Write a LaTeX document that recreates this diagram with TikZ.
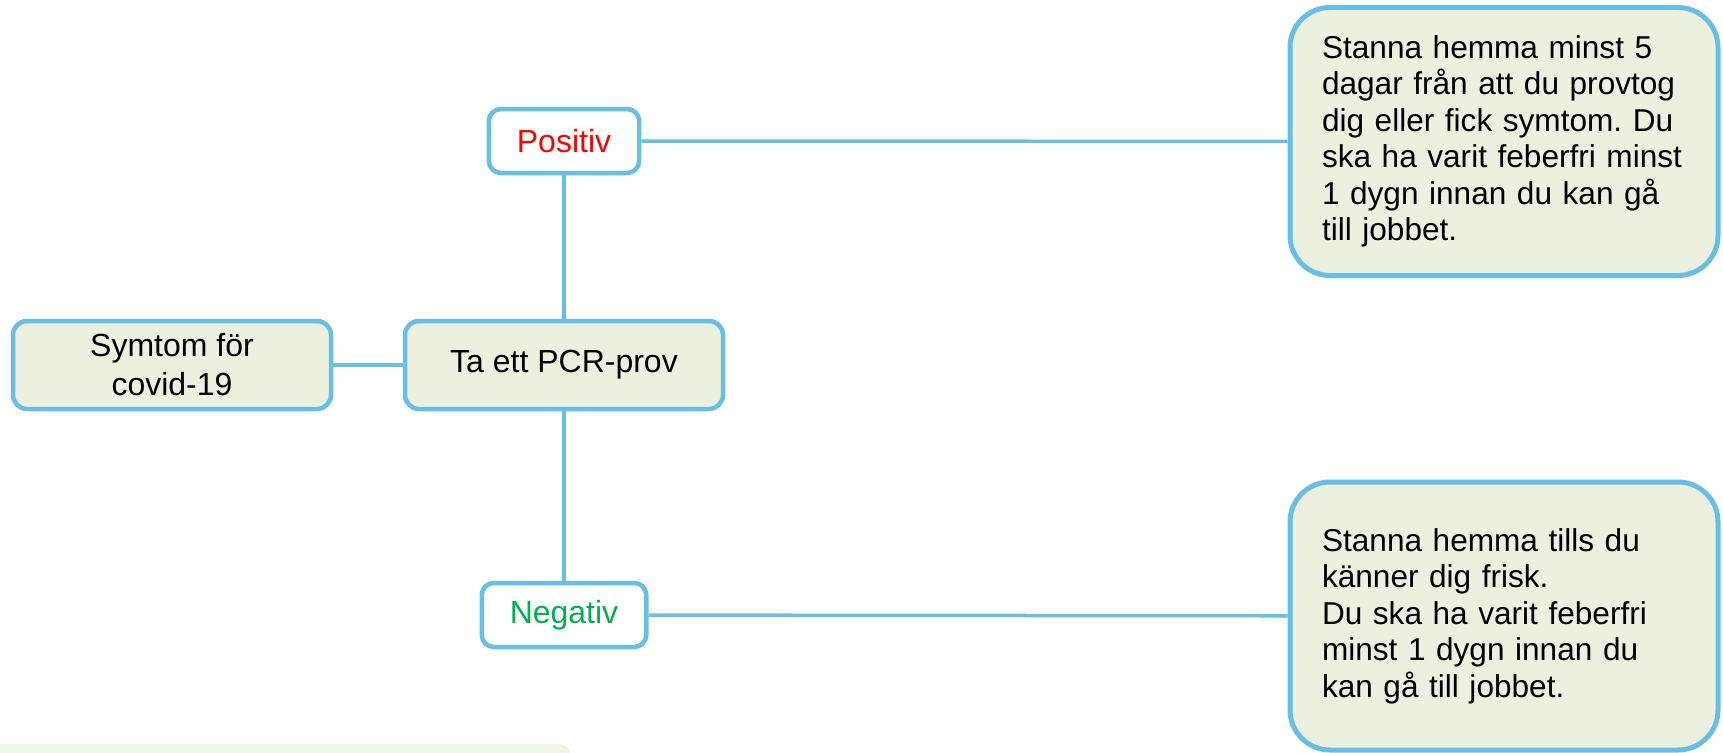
\documentclass[tikz,border=0pt]{standalone}
\usepackage{fontspec}
\setmainfont{Liberation Sans}
\frenchspacing
\definecolor{boxblue}{RGB}{104,190,229}
\definecolor{boxfill}{RGB}{235,241,222}
\definecolor{notefill}{RGB}{240,246,230}
\definecolor{posred}{RGB}{255,0,0}
\definecolor{neggreen}{RGB}{0,176,80}
\tikzset{
  stepbox/.style={draw=boxblue, line width=4.5pt, fill=boxfill, rounded corners=14pt,
    minimum width=318pt, minimum height=88pt, align=center,
    font=\fontsize{32}{39}\selectfont},
  resultbox/.style={draw=boxblue, line width=4.5pt, fill=white, rounded corners=12pt,
    minimum height=64pt, inner xsep=28pt, font=\fontsize{32}{38}\selectfont},
  advicebox/.style={draw=boxblue, line width=5pt, fill=boxfill, rounded corners=40pt,
    minimum width=428pt, minimum height=268pt, text width=364pt, align=left,
    font=\fontsize{31.6}{36.5}\selectfont},
  link/.style={draw=boxblue, line width=3.5pt},
}
\begin{document}
\begin{tikzpicture}[x=1pt,y=1pt]
\useasboundingbox (0,0) rectangle (1723,-752);

\node[stepbox] (symtom) at (172, -365) {Symtom för\\covid-19};
\node[stepbox] (pcr) at (564, -365) {Ta ett PCR-prov};
\node[resultbox, text=posred] (positiv) at (564, -141) {Positiv};
\node[resultbox, text=neggreen] (negativ) at (564, -615) {Negativ};
\node[advicebox] (hemmapos) at (1504, -141.5) {Stanna hemma minst 5\\dagar från att du provtog\\dig eller fick symtom. Du\\ska ha varit feberfri minst\\1 dygn innan du kan gå\\till jobbet.};
\node[advicebox] (hemmaneg) at (1504, -616) {Stanna hemma tills du\\känner dig frisk.\\Du ska ha varit feberfri\\minst 1 dygn innan du\\kan gå till jobbet.};

\path[link] (symtom) edge (pcr);
\path[link] (pcr) edge (positiv);
\path[link] (pcr) edge (negativ);
\path[link] (positiv) edge (hemmapos);
\path[link] (negativ) edge (hemmaneg);

% box cut off at the lower edge
\fill[notefill, rounded corners=12pt] (-20,-744) rectangle (571,-800);
\end{tikzpicture}
\end{document}
